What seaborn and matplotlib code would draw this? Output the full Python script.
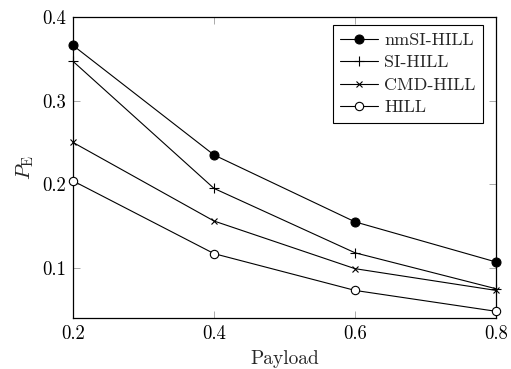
import matplotlib
matplotlib.use("Agg")
import matplotlib.pyplot as plt
import seaborn as sns
import pandas as pd

# values
payload = [0.2, 0.4, 0.6, 0.8]
nmsi_hill = [0.366, 0.235, 0.155, 0.107]
si_hill = [0.347, 0.195, 0.118, 0.075]
cmd_hill = [0.250, 0.156, 0.099, 0.073]
hill = [0.204, 0.117, 0.073, 0.048]

series = {
    "nmSI-HILL": (nmsi_hill, dict(marker="o", markersize=6.5, markerfacecolor="black")),
    "SI-HILL": (si_hill, dict(marker="+", markersize=6.5, markeredgewidth=0.8)),
    "CMD-HILL": (cmd_hill, dict(marker="x", markersize=4.5, markeredgewidth=0.8)),
    "HILL": (hill, dict(marker="o", markersize=6, markerfacecolor="white", markeredgewidth=0.8)),
}

sns.set_theme(style="ticks")
plt.rcParams["font.family"] = ["cmr10", "DejaVu Serif"]
plt.rcParams["mathtext.fontset"] = "cm"
plt.rcParams["axes.formatter.use_mathtext"] = True
plt.rcParams["axes.unicode_minus"] = False

fig, ax = plt.subplots(figsize=(5.11, 3.69), dpi=100)
fig.subplots_adjust(left=73 / 511, right=496 / 511, top=1 - 17 / 369, bottom=1 - 318 / 369)

for name, (vals, kw) in series.items():
    df = pd.DataFrame({"Payload": payload, "PE": vals})
    sns.lineplot(data=df, x="Payload", y="PE", ax=ax, color="black", linewidth=0.8,
                 markeredgecolor="black", label=name, clip_on=False, zorder=3, **kw)

ax.set_xlim(0.2, 0.8)
ax.set_ylim(0.04, 0.4)
ax.set_xticks([0.2, 0.4, 0.6, 0.8])
ax.set_yticks([0.1, 0.2, 0.3, 0.4])
ax.set_xticklabels(["0.2", "0.4", "0.6", "0.8"])
ax.set_yticklabels(["0.1", "0.2", "0.3", "0.4"])
ax.tick_params(direction="in", top=True, right=True, length=5, width=0.5,
               labelsize=13.5, colors="black", pad=5)
ax.tick_params(axis="both", color="#888888")
for sp in ax.spines.values():
    sp.set_linewidth(0.9)
    sp.set_color("black")

ax.set_xlabel("Payload", fontsize=14, labelpad=5)
ax.set_ylabel(r"$P_\mathrm{E}$", fontsize=15, labelpad=4)

leg = ax.legend(loc="upper right", bbox_to_anchor=(0.969, 0.973), borderaxespad=0,
                fontsize=13, frameon=True, fancybox=False,
                edgecolor="black", framealpha=1, borderpad=0.4, labelspacing=0.38,
                handlelength=2.1, handletextpad=0.35)
leg.get_frame().set_linewidth(0.8)

fig.savefig("out.png", dpi=100)
